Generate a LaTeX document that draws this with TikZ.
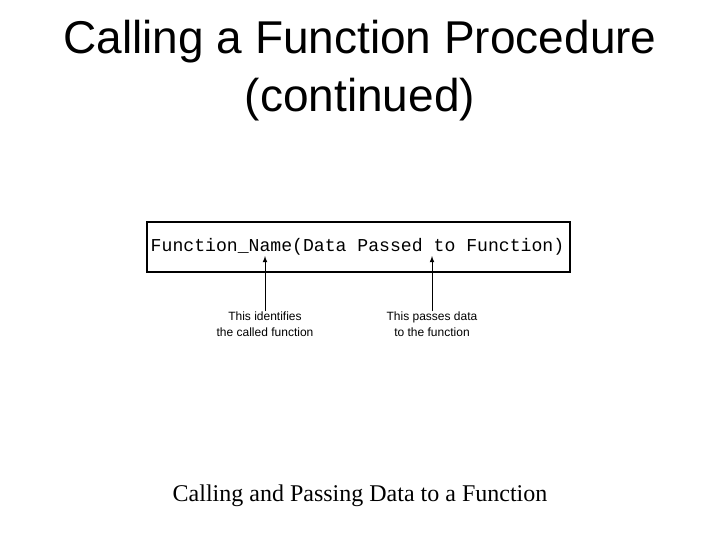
\documentclass[tikz,border=0pt]{standalone}
\usepackage{fontspec}
\setmainfont{Liberation Serif}
\newfontfamily\arialf{Liberation Sans}
\newfontfamily\courf{Liberation Mono}
\begin{document}
\begin{tikzpicture}[x=0.75pt,y=-0.75pt,
  lbl/.style={font=\arialf\fontsize{9}{12}\selectfont,align=center,inner sep=0pt},
  arr/.style={-latex,line width=0.6pt}]
\useasboundingbox (0,0) rectangle (720,540);
\node[font=\arialf\fontsize{34.5}{43.5}\selectfont,align=center] (title) at (360,71) {Calling a Function Procedure\\(continued)};
\node[draw,line width=0.8pt,minimum width=423*0.75pt,minimum height=50*0.75pt,inner sep=0pt] (box) at (358.5,247) {};
\node[font=\courf\fontsize{13.6}{16}\selectfont] (code) at (357.5,247) {Function\_Name(Data Passed to Function)};
\node[lbl] (l1) at (265,324) {This identifies\\the called function};
\node[lbl] (l2) at (432,324) {This passes data\\to the function};
\coordinate (a1) at (265,256);
\coordinate (a2) at (432,256);
\draw[arr] (l1.north) -- (a1);
\draw[arr] (l2.north) -- (a2);
\node[font=\fontsize{18}{22}\selectfont] (cap) at (360,496) {Calling and Passing Data to a Function};
\end{tikzpicture}
\end{document}
